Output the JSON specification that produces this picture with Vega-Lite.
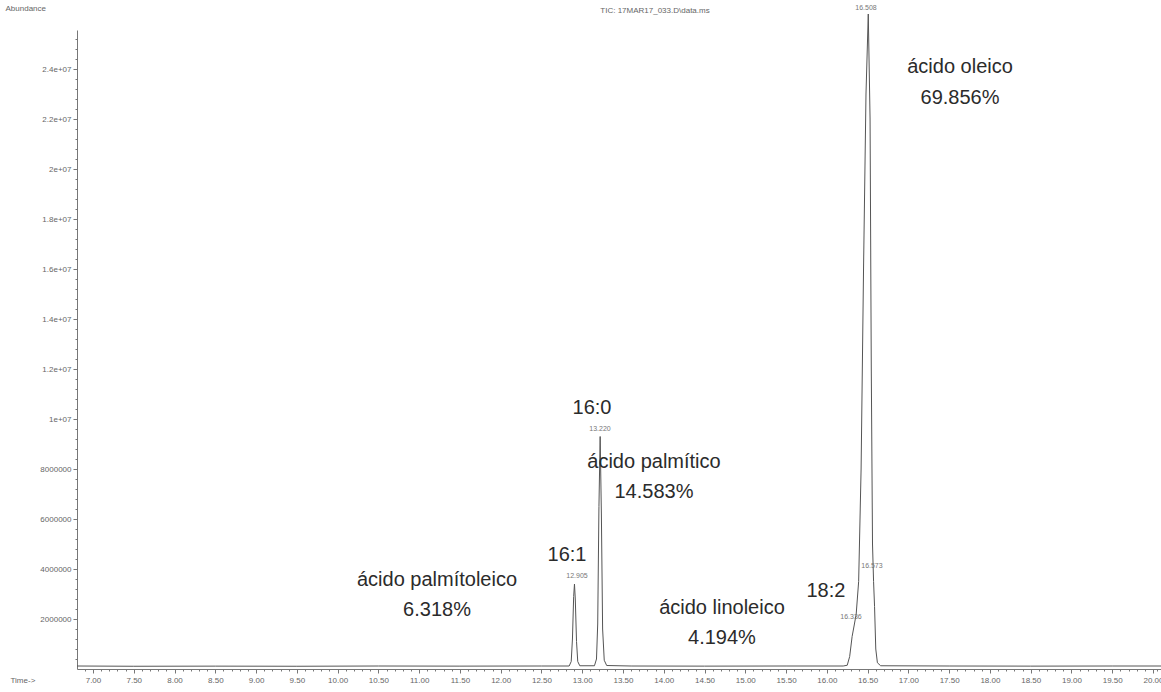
{
  "$schema": "https://vega.github.io/schema/vega-lite/v6.json",
  "width": 1084,
  "height": 639,
  "autosize": {"type": "none"},
  "padding": {"left": 77, "top": 30, "right": 0, "bottom": 23},
  "background": "white",
  "config": {
    "view": {"stroke": null},
    "font": "Liberation Sans",
    "axis": {
      "domainColor": "#777777",
      "tickColor": "#777777",
      "labelColor": "#666666",
      "labelFont": "Liberation Sans",
      "labelFontSize": 8,
      "titleFont": "Liberation Sans",
      "titleFontSize": 8,
      "titleFontWeight": "normal",
      "titleColor": "#666666",
      "grid": false
    }
  },
  "title": {
    "text": "TIC: 17MAR17_033.D\\data.ms",
    "frame": "group",
    "anchor": "middle",
    "dx": 36,
    "dy": 15,
    "offset": 0,
    "baseline": "middle",
    "fontSize": 8,
    "fontWeight": "normal",
    "color": "#666666",
    "font": "Liberation Sans"
  },
  "datasets": {
    "tic": [
      {"time": 6.804, "abundance": 120000},
      {"time": 7.5, "abundance": 110000},
      {"time": 8.5, "abundance": 115000},
      {"time": 9.5, "abundance": 110000},
      {"time": 10.5, "abundance": 120000},
      {"time": 11.5, "abundance": 115000},
      {"time": 12.5, "abundance": 120000},
      {"time": 12.84, "abundance": 120000},
      {"time": 12.865, "abundance": 300000},
      {"time": 12.88, "abundance": 1200000},
      {"time": 12.895, "abundance": 2900000},
      {"time": 12.905, "abundance": 3400000},
      {"time": 12.915, "abundance": 2800000},
      {"time": 12.93, "abundance": 1100000},
      {"time": 12.945, "abundance": 300000},
      {"time": 12.97, "abundance": 130000},
      {"time": 13.15, "abundance": 130000},
      {"time": 13.175, "abundance": 400000},
      {"time": 13.19, "abundance": 1800000},
      {"time": 13.205, "abundance": 6500000},
      {"time": 13.22, "abundance": 9300000},
      {"time": 13.235, "abundance": 6200000},
      {"time": 13.25, "abundance": 1600000},
      {"time": 13.27, "abundance": 350000},
      {"time": 13.3, "abundance": 140000},
      {"time": 13.6, "abundance": 120000},
      {"time": 14.5, "abundance": 115000},
      {"time": 15.5, "abundance": 120000},
      {"time": 16.2, "abundance": 120000},
      {"time": 16.25, "abundance": 150000},
      {"time": 16.28, "abundance": 500000},
      {"time": 16.31, "abundance": 1300000},
      {"time": 16.336, "abundance": 1760000},
      {"time": 16.36, "abundance": 2200000},
      {"time": 16.39, "abundance": 3500000},
      {"time": 16.42, "abundance": 8000000},
      {"time": 16.45, "abundance": 16000000},
      {"time": 16.48, "abundance": 23000000},
      {"time": 16.508, "abundance": 26200000},
      {"time": 16.53, "abundance": 22000000},
      {"time": 16.545, "abundance": 12000000},
      {"time": 16.56, "abundance": 5000000},
      {"time": 16.573, "abundance": 3500000},
      {"time": 16.585, "abundance": 2500000},
      {"time": 16.6, "abundance": 800000},
      {"time": 16.62, "abundance": 250000},
      {"time": 16.66, "abundance": 130000},
      {"time": 17.5, "abundance": 120000},
      {"time": 18.5, "abundance": 115000},
      {"time": 19.5, "abundance": 120000},
      {"time": 20.098, "abundance": 120000}
    ],
    "rt": [
      {"time": 12.936, "abundance": 3720000, "label": "12.905"},
      {"time": 13.218, "abundance": 9600000, "label": "13.220"},
      {"time": 16.48, "abundance": 26440000, "label": "16.508"},
      {"time": 16.553, "abundance": 4120000, "label": "16.573"},
      {"time": 16.296, "abundance": 2080000, "label": "16.336"}
    ],
    "notes": [
      {"time": 13.12, "abundance": 10440000, "label": "16:0"},
      {"time": 12.813, "abundance": 4560000, "label": "16:1"},
      {"time": 15.989, "abundance": 3120000, "label": "18:2"},
      {"time": 13.88, "abundance": 8280000, "label": "ácido palmítico"},
      {"time": 13.88, "abundance": 7080000, "label": "14.583%"},
      {"time": 11.219, "abundance": 3560000, "label": "ácido palmítoleico"},
      {"time": 11.219, "abundance": 2360000, "label": "6.318%"},
      {"time": 14.714, "abundance": 2440000, "label": "ácido linoleico"},
      {"time": 14.714, "abundance": 1240000, "label": "4.194%"},
      {"time": 17.633, "abundance": 24080000, "label": "ácido oleico"},
      {"time": 17.633, "abundance": 22840000, "label": "69.856%"}
    ]
  },
  "layer": [
    {
      "data": {"name": "tic"},
      "mark": {"type": "point", "opacity": 0},
      "encoding": {
        "x": {
          "field": "time", "type": "quantitative",
          "scale": {"domain": [6.804, 20.098], "nice": false, "zero": false},
          "axis": {
            "orient": "bottom", "domain": false, "labels": false, "title": null, "tickSize": 2,
            "values": [6.9,7.1,7.2,7.3,7.4,7.6,7.7,7.8,7.9,8.1,8.2,8.3,8.4,8.6,8.7,8.8,8.9,9.1,9.2,9.3,9.4,9.6,9.7,9.8,9.9,10.1,10.2,10.3,10.4,10.6,10.7,10.8,10.9,11.1,11.2,11.3,11.4,11.6,11.7,11.8,11.9,12.1,12.2,12.3,12.4,12.6,12.7,12.8,12.9,13.1,13.2,13.3,13.4,13.6,13.7,13.8,13.9,14.1,14.2,14.3,14.4,14.6,14.7,14.8,14.9,15.1,15.2,15.3,15.4,15.6,15.7,15.8,15.9,16.1,16.2,16.3,16.4,16.6,16.7,16.8,16.9,17.1,17.2,17.3,17.4,17.6,17.7,17.8,17.9,18.1,18.2,18.3,18.4,18.6,18.7,18.8,18.9,19.1,19.2,19.3,19.4,19.6,19.7,19.8,19.9,20.05]
          }
        },
        "y": {
          "field": "abundance", "type": "quantitative",
          "scale": {"domain": [0, 25560000], "nice": false, "zero": true},
          "axis": {
            "orient": "left", "domain": false, "labels": false, "title": null, "tickSize": 2,
            "values": [400000,800000,1200000,1600000,2400000,2800000,3200000,3600000,4400000,4800000,5200000,5600000,6400000,6800000,7200000,7600000,8400000,8800000,9200000,9600000,10400000,10800000,11200000,11600000,12400000,12800000,13200000,13600000,14400000,14800000,15200000,15600000,16400000,16800000,17200000,17600000,18400000,18800000,19200000,19600000,20400000,20800000,21200000,21600000,22400000,22800000,23200000,23600000,24400000,24800000,25200000]
          }
        }
      }
    },
    {
      "data": {"name": "tic"},
      "mark": {"type": "line", "color": "#555555", "strokeWidth": 1, "clip": false, "interpolate": "linear"},
      "encoding": {
        "x": {
          "field": "time", "type": "quantitative",
          "axis": {
            "orient": "bottom",
            "values": [7,7.5,8,8.5,9,9.5,10,10.5,11,11.5,12,12.5,13,13.5,14,14.5,15,15.5,16,16.5,17,17.5,18,18.5,19,19.5,20],
            "format": ".2f",
            "tickSize": 4,
            "labelPadding": 3,
            "labelFlush": false,
            "labelOverlap": false,
            "labelBound": false,
            "title": "Time->",
            "titleX": -67,
            "titleY": 11,
            "titleAlign": "left",
            "titleBaseline": "middle"
          }
        },
        "y": {
          "field": "abundance", "type": "quantitative",
          "axis": {
            "orient": "left",
            "values": [2000000,4000000,6000000,8000000,10000000,12000000,14000000,16000000,18000000,20000000,22000000,24000000],
            "labelExpr": "datum.value >= 10000000 ? format(datum.value / 10000000, '~g') + 'e+07' : format(datum.value, 'd')",
            "tickSize": 4,
            "labelPadding": 2,
            "title": "Abundance",
            "titleAngle": 0,
            "titleX": -72,
            "titleY": -22,
            "titleAlign": "left",
            "titleBaseline": "middle"
          }
        }
      }
    },
    {
      "data": {"name": "rt"},
      "mark": {"type": "text", "fontSize": 7, "color": "#777777", "align": "center", "baseline": "middle", "font": "Liberation Sans"},
      "encoding": {
        "x": {"field": "time", "type": "quantitative", "axis": null},
        "y": {"field": "abundance", "type": "quantitative", "axis": null},
        "text": {"field": "label"}
      }
    },
    {
      "data": {"name": "notes"},
      "mark": {"type": "text", "fontSize": 20, "color": "#2b2b2b", "align": "center", "baseline": "middle", "font": "Liberation Sans"},
      "encoding": {
        "x": {"field": "time", "type": "quantitative", "axis": null},
        "y": {"field": "abundance", "type": "quantitative", "axis": null},
        "text": {"field": "label"}
      }
    }
  ],
  "resolve": {"axis": {"x": "independent", "y": "independent"}}
}
